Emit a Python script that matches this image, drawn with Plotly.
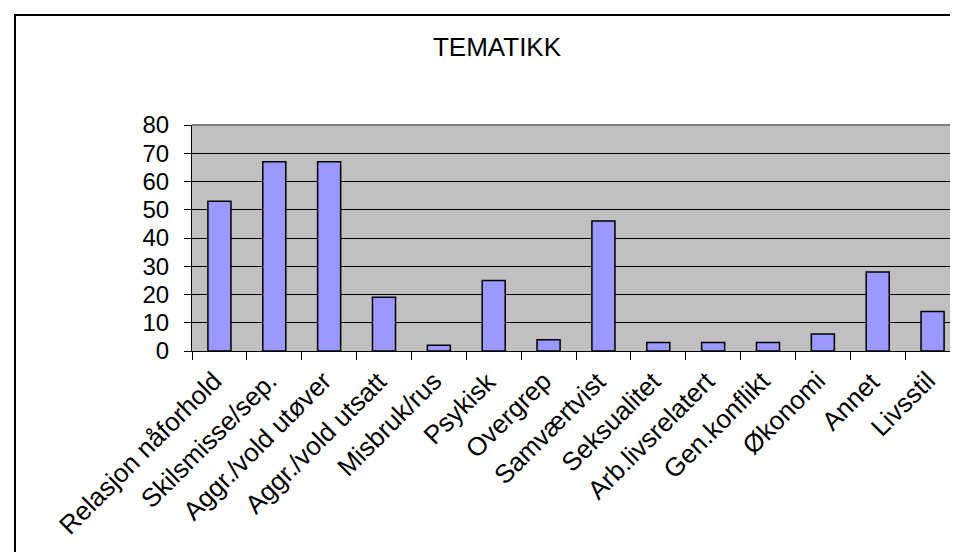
import plotly.graph_objects as go

categories = ["Relasjon nåforhold", "Skilsmisse/sep.", "Aggr./vold utøver", "Aggr./vold utsatt",
              "Misbruk/rus", "Psykisk", "Overgrep", "Samværtvist", "Seksualitet",
              "Arb.livsrelatert", "Gen.konflikt", "Økonomi", "Annet", "Livsstil"]
values = [53, 67, 67, 19, 2, 25, 4, 46, 3, 3, 3, 6, 28, 14]
y_ticks = [0, 10, 20, 30, 40, 50, 60, 70, 80]

W, H = 958, 552
L, R, T, B = 184, 6, 117, 209
pw = W - L - R
ph = H - T - B

font_family = "Liberation Sans, Arial, sans-serif"

fig = go.Figure(go.Bar(
    x=categories, y=values,
    marker=dict(color="#9999FF", line=dict(color="black", width=1.5)),
))

def px_x(px):
    return (px - L) / pw

def px_y(py):
    return (H - B - py) / ph

# category labels drawn as rotated annotations anchored on the category axis
label_annotations = [
    dict(x=c, y=0, xref="x", yref="y", text=c, showarrow=False, textangle=-45,
         xanchor="right", yanchor="top", xshift=11, yshift=-12,
         font=dict(family=font_family, size=26, color="black"))
    for c in categories
]

fig.update_layout(
    width=W, height=H,
    margin=dict(l=L, r=R, t=T, b=B, autoexpand=False),
    paper_bgcolor="white",
    plot_bgcolor="#C0C0C0",
    bargap=0.58,
    showlegend=False,
    title=dict(text="TEMATIKK", x=489 / W, xanchor="center", xref="container",
               y=1 - 39 / H, yanchor="middle", yref="container",
               font=dict(family=font_family, size=26, color="black")),
    font=dict(family=font_family, color="black"),
    xaxis=dict(
        type="category", showgrid=False, showline=True, linecolor="black", linewidth=1,
        range=[-0.5, len(categories) - 0.5], autorange=False,
        ticks="outside", tickson="boundaries", ticklen=8, tickcolor="black", tickwidth=1,
        showticklabels=False,
        fixedrange=True,
    ),
    yaxis=dict(
        range=[0, 80], autorange=False, tickvals=y_ticks, showgrid=True, gridcolor="black", gridwidth=1,
        showline=True, linecolor="black", linewidth=1, zeroline=False,
        ticks="outside", ticklen=7, tickcolor="black", tickwidth=1,
        tickfont=dict(size=24, family=font_family, color="black"),
        ticklabelstandoff=10,
        fixedrange=True,
    ),
    annotations=label_annotations,
    shapes=[
        dict(type="line", xref="paper", yref="paper", x0=0, x1=1, y0=1, y1=1,
             line=dict(color="#808080", width=2)),
        dict(type="line", xref="paper", yref="paper", x0=1, x1=1, y0=0, y1=1,
             line=dict(color="#808080", width=2)),
        dict(type="rect", xref="paper", yref="paper",
             x0=px_x(7), x1=px_x(975), y0=px_y(570), y1=px_y(7),
             line=dict(color="black", width=2), fillcolor="rgba(0,0,0,0)"),
    ],
)

fig.write_html("out.html")
